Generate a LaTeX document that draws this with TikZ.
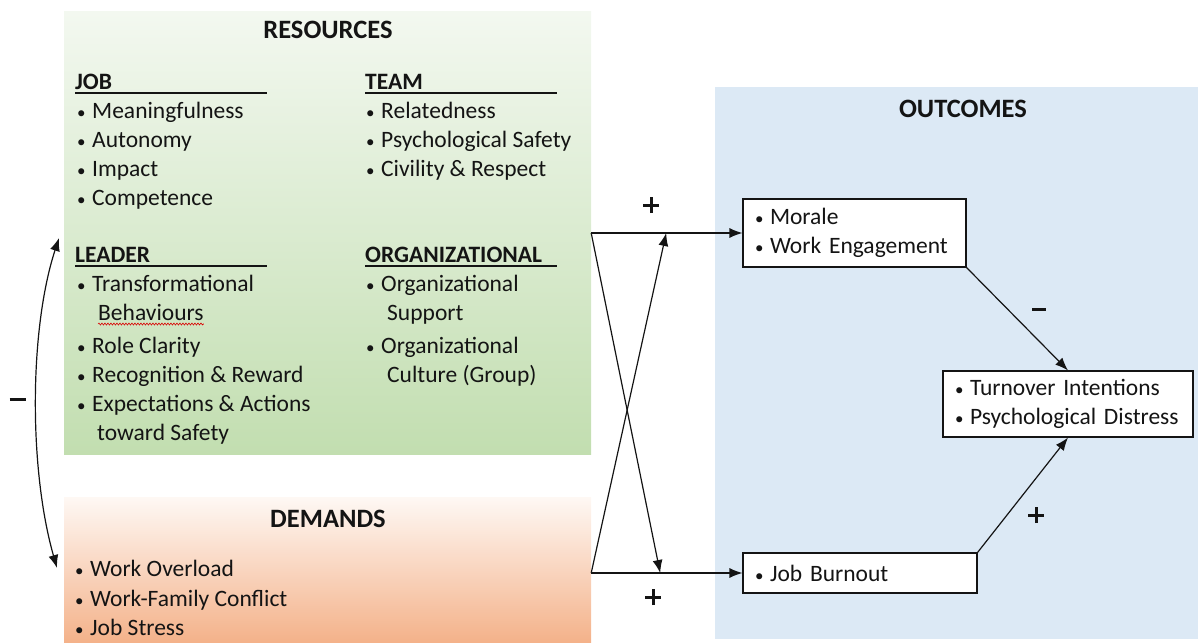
\documentclass[tikz,border=0pt]{standalone}
\usepackage{fontspec}
\setmainfont{Carlito}
\usetikzlibrary{arrows.meta,calc,decorations.pathmorphing}

\definecolor{ink}{HTML}{141414}
\definecolor{resTop}{HTML}{F3F8F0}
\definecolor{resMid}{HTML}{C8E1B8}
\definecolor{resBot}{HTML}{C2DEB0}
\definecolor{demTop}{HTML}{FEF8F4}
\definecolor{demBot}{HTML}{F4B28A}
\definecolor{outFill}{HTML}{DCE9F5}

% small bullet followed by a fixed gap
\newcommand\bul{\makebox[15pt][l]{\fontsize{17}{17}\selectfont •}}
% sign marks for the path labels
\newcommand\plusmark{\makebox[16pt][l]{\rule[6.5pt]{16pt}{3pt}\hspace{-9.5pt}\rule{3pt}{16pt}}}
\newcommand\minusmark[1]{\rule{#1}{3pt}}

\begin{document}
\begin{tikzpicture}[x=1pt,y=-1pt,
  panel/.style={draw=none, inner sep=0, rectangle},
  txt/.style={anchor=base west, inner sep=0, text=ink, font=\fontsize{23.5}{28}\selectfont},
  hdr/.style={anchor=base west, inner sep=0, text=ink, font=\fontsize{23.5}{28}\selectfont\bfseries},
  ttl/.style={anchor=base, inner sep=0, text=ink, font=\fontsize{26.5}{30}\selectfont\bfseries},
  sym/.style={inner sep=0, text=ink},
  rule/.style={draw=ink, line width=1.1pt},
  outbox/.style={draw=ink, line width=1.1pt, fill=white, rectangle, inner xsep=12pt, inner ysep=0pt,
                 align=left, text=ink, font=\fontsize{23.5}{29}\selectfont},
  conn/.style={draw=ink, line width=1.2pt, -{Latex[length=13pt,width=10pt]}},
  both/.style={draw=ink, line width=1.2pt, {Latex[length=13pt,width=10pt]}-{Latex[length=13pt,width=10pt]}}
]
\useasboundingbox (0,0) rectangle (1198,642);

% background panels
\node[panel, top color=resTop, middle color=resMid, bottom color=resBot,
      minimum width=527pt, minimum height=442pt] (res) at (327.5,233) {};
\node[panel, top color=demTop, bottom color=demBot,
      minimum width=527pt, minimum height=145pt] (dem) at (327.5,569.5) {};
\node[panel, fill=outFill, minimum width=483pt, minimum height=552pt] (out) at (956.5,363) {};

% panel titles
\node[ttl] (restitle) at (328,39) {RESOURCES};
\node[ttl] (demtitle) at (328,527) {DEMANDS};
\node[ttl] (outtitle) at (963,117) {OUTCOMES};

% resource group headers with rules
\node[hdr] (jobh) at (75,89) {JOB};
\node[hdr] (teamh) at (365,89) {TEAM};
\node[hdr] (leadh) at (75,262) {LEADER};
\node[hdr] (orgh) at (365,262) {ORGANIZATIONAL};
\foreach \h in {jobh,teamh,leadh,orgh}
  \draw[rule] (\h.base west) ++(0,4) -- ++(192,0);

% job resources
\foreach \t [count=\i] in {Meaningfulness, Autonomy, Impact, Competence}
  \node[txt] (job\i) at (77,89+29*\i) {\bul\t};
% team resources
\foreach \t [count=\i] in {Relatedness, Psychological Safety, {Civility \& Respect}}
  \node[txt] (team\i) at (366,89+29*\i) {\bul\t};

% leader resources
\node[txt] (lead1) at (77,291) {\bul Transformational};
\node[txt] (beh) at (98,320) {Behaviours};
\node[txt] (lead2) at (77,353) {\bul Role Clarity};
\node[txt] (lead3) at (77,382) {\bul Recognition \& Reward};
\node[txt] (lead4) at (77,411) {\bul Expectations \& Actions};
\node[txt] (lead4b) at (97,440) {toward Safety};
\draw[red!85!black, line width=0.6pt, decorate,
      decoration={snake, amplitude=1pt, segment length=3pt}]
  ($(beh.base west)+(0,4)$) -- ($(beh.base east)+(0,4)$);

% organizational resources
\node[txt] (org1) at (366,291) {\bul Organizational};
\node[txt] (org1b) at (387,320) {Support};
\node[txt] (org2) at (366,353) {\bul Organizational};
\node[txt] (org2b) at (387,382) {Culture (Group)};

% demands
\node[txt] (dm1) at (75,576) {\bul Work Overload};
\node[txt] (dm2) at (75,606) {\bul Work-Family Conflict};
\node[txt] (dm3) at (75,635) {\bul Job Stress};

% outcome boxes
\node[outbox, minimum width=223pt, minimum height=68pt, text width=199pt] (mor) at (854.5,233)
  {\bul Morale\\\bul Work Engagement};
\node[outbox, minimum width=234pt, minimum height=40pt, text width=210pt] (burn) at (860,573)
  {\bul Job Burnout};
\node[outbox, minimum width=250pt, minimum height=66pt, text width=226pt] (turn) at (1068,404)
  {\bul Turnover Intentions\\\bul Psychological Distress};

% resources <-> demands
\coordinate (la) at (59,238);
\coordinate (lb) at (57,568);
\draw[both] (lb) .. controls (29,470) and (29,330) .. (la);
\node[sym] (negrd) at (17.5,399) {\minusmark{16pt}};

% paths into the outcomes
\coordinate (s1) at (res.east |- mor.west);
\coordinate (s2) at (dem.east |- burn.west);
\coordinate (t1) at ($(s2)+(69,0)$);
\coordinate (t2) at ($(s1)+(75,0)$);
\draw[conn] (s1) -- (mor.west);
\draw[conn] (s2) -- (burn.west);
\draw[conn] (s1) -- (t1);
\draw[conn] (s2) -- (t2);
\node[sym] (p1) at (651,205) {\plusmark};
\node[sym] (p2) at (653,597) {\plusmark};

\draw[conn] (mor.south east) -- (turn.north);
\draw[conn] (burn.north east) -- (turn.south);
\node[sym] (n2) at (1039,309) {\minusmark{14pt}};
\node[sym] (p3) at (1036,515) {\plusmark};
\end{tikzpicture}
\end{document}
